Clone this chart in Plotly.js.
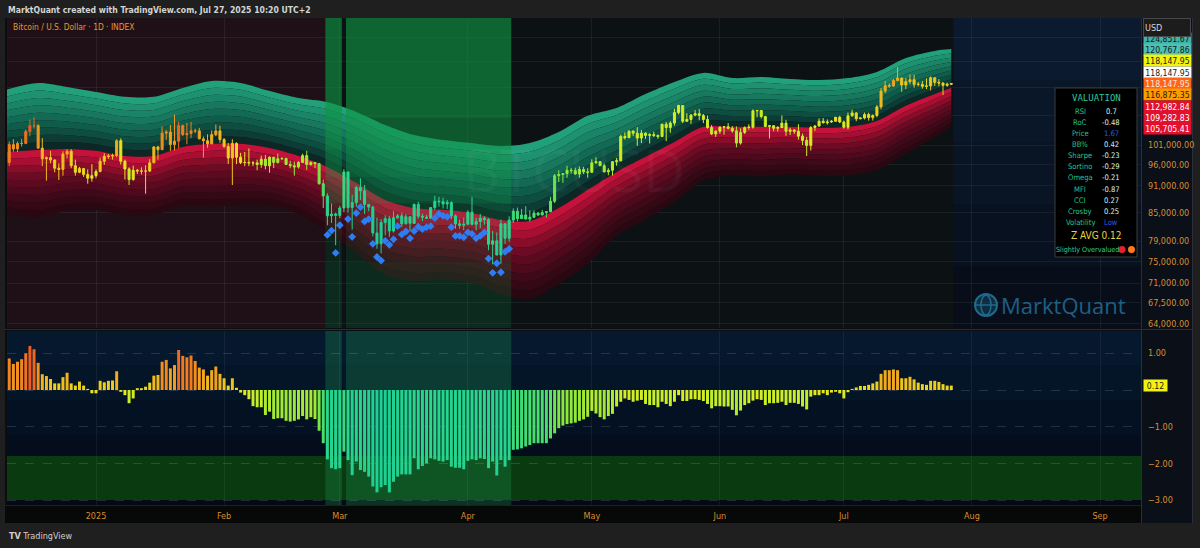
<!DOCTYPE html>
<html>
<head>
<meta charset="utf-8">
<script src="https://cdn.plot.ly/plotly-3.0.1.min.js"></script>
<style>
html,body{margin:0;padding:0;background:#1f1f1f;overflow:hidden;}
#chart{width:1200px;height:548px;}
</style>
</head>
<body>
<div id="chart"></div>
<script>
// ================= DATA (prices in thousands of USD) =================
const startDate = '2024-12-11';
const opens = [
96.6,101.1,100.0,101.4,101.4,104.5,106.1,106.1,100.2,97.5,97.8,97.2,95.2,94.9,98.7,99.4,95.8,94.2,95.1,93.7,92.8,
93.4,94.4,96.9,98.1,98.2,98.3,102.1,96.9,95.0,92.5,94.7,94.5,94.5,94.5,96.5,100.5,99.8,104.1,104.4,101.1,102.0,106.1,103.7,104.0,104.7,104.7,102.6,102.1,101.3,103.7,104.7,
102.4,100.6,97.7,101.4,97.9,96.6,96.6,96.5,96.5,96.1,97.4,95.8,97.9,96.6,97.5,97.6,96.1,95.8,95.5,96.6,98.3,96.1,96.6,96.3,91.5,88.7,84.3,84.7,
84.4,86.0,94.3,86.1,87.2,90.6,89.9,86.8,86.2,80.7,78.5,82.9,83.7,81.1,83.9,84.3,82.6,84.1,82.7,86.8,84.2,84.0,83.8,86.1,87.5,87.4,86.9,87.2,84.3,82.6,82.3,
82.5,85.1,82.5,83.1,83.8,83.5,78.4,79.1,76.3,82.6,79.6,83.4,85.3,83.7,84.5,83.6,84.0,84.9,84.5,85.0,85.2,87.5,93.4,93.7,93.9,94.7,94.6,93.8,94.9,94.3,
94.2,96.5,96.8,95.8,94.3,94.7,96.8,97.0,103.2,102.9,104.6,104.1,102.8,104.1,103.5,103.7,103.5,103.2,106.5,105.6,106.8,109.7,111.7,107.3,107.8,109.0,109.4,108.9,107.8,105.6,103.9,
104.6,105.7,105.8,105.4,104.7,101.5,104.3,105.6,105.7,110.2,110.3,108.6,105.9,106.1,105.4,105.6,106.8,104.6,104.9,104.6,103.3,102.2,100.9,105.6,106.0,107.3,106.9,107.1,107.3,108.4,
107.1,105.7,108.8,109.6,108.0,108.2,109.2,108.3,108.9,111.3,115.9,117.5,117.4,119.1,119.8,117.7,118.7,119.3,117.9,117.9,117.3,117.4,119.9,118.5,118.3,117.6,117.9];
const highs = [
101.9,102.5,101.9,102.6,105.1,107.8,108.4,106.5,102.8,98.1,99.5,97.4,96.4,99.4,99.9,99.9,97.3,95.5,95.2,94.9,96.2,
94.9,97.8,98.9,98.7,98.8,102.5,102.7,97.3,95.4,95.8,95.0,95.4,95.9,97.4,100.7,100.8,105.9,104.9,106.3,109.1,107.2,106.4,106.9,107.1,105.3,105.5,103.2,103.8,104.8,106.4,106.1,
102.8,101.5,102.5,101.7,99.0,99.2,100.1,96.9,97.3,98.3,98.5,98.1,98.0,98.8,97.9,97.7,97.0,96.8,96.9,98.8,99.5,96.9,96.7,96.5,92.5,89.3,87.0,85.0,
86.5,95.0,94.4,88.9,91.0,92.8,91.2,86.8,86.5,83.9,83.6,84.4,84.3,85.3,84.7,85.0,84.7,84.1,87.0,87.4,84.8,84.5,86.1,88.7,88.5,88.3,87.8,87.5,84.6,83.5,83.9,
85.5,88.5,83.9,84.7,84.2,83.8,81.1,80.8,83.5,82.7,84.2,85.9,86.1,85.8,86.4,85.5,85.5,85.1,85.6,85.3,88.5,93.8,94.7,94.0,95.8,95.3,95.3,95.6,95.5,95.2,
97.4,97.9,96.9,96.3,95.2,96.9,97.7,103.7,104.3,104.9,104.9,105.7,104.9,104.3,104.1,104.5,103.7,106.6,107.1,107.3,110.8,111.9,111.8,109.5,109.3,110.4,110.7,109.3,108.9,106.3,104.9,
105.9,105.9,106.8,106.0,105.9,105.4,105.9,106.5,110.6,110.4,110.4,108.8,106.2,106.2,106.0,108.9,107.7,105.5,105.2,106.5,104.0,103.1,106.0,106.3,108.1,108.2,107.8,107.6,108.5,108.8,
107.5,109.7,110.5,109.8,108.4,109.7,109.7,109.2,111.9,116.8,118.9,118.2,119.5,123.2,119.9,119.8,120.9,120.8,118.6,118.9,119.7,120.3,120.1,119.5,118.5,118.4,118.3];
const lows = [
95.7,99.3,99.2,100.6,101.2,103.3,105.3,100.0,95.7,92.2,96.4,94.2,92.4,93.4,97.6,95.2,93.4,94.0,93.1,91.5,92.0,
92.8,94.2,96.0,97.5,97.3,97.9,96.1,92.5,91.2,92.2,93.8,93.7,89.2,94.3,96.5,97.3,99.8,102.3,99.5,99.6,100.1,103.3,101.2,102.8,104.1,102.5,97.8,100.3,101.3,103.3,101.6,
100.3,96.2,91.2,96.2,96.2,95.7,95.7,95.7,94.7,95.3,94.9,94.1,95.2,96.3,97.2,96.1,95.2,93.4,95.1,96.5,94.8,95.8,95.2,91.3,86.0,82.3,82.8,78.2,
83.8,85.1,85.0,81.4,86.3,87.8,84.7,85.3,80.0,77.5,76.6,80.2,79.9,80.8,83.7,82.0,82.5,81.1,82.7,83.7,83.2,83.7,83.8,85.6,86.3,85.9,85.8,83.6,81.6,81.6,81.3,
82.4,82.3,81.2,81.7,82.4,77.2,74.5,76.2,74.6,78.5,78.9,82.8,83.1,83.7,83.6,83.1,83.9,84.3,84.4,83.9,85.1,87.1,91.9,91.7,92.9,93.9,93.6,92.9,93.8,92.9,
94.1,96.3,95.8,94.2,93.5,93.4,95.8,96.9,102.4,102.8,103.3,100.8,101.5,102.6,101.4,103.1,102.6,103.1,102.0,104.2,106.1,109.2,106.8,107.1,106.6,108.7,107.6,106.8,105.3,103.6,103.1,
103.9,103.7,105.1,104.2,100.4,101.1,103.9,105.0,105.3,108.4,108.1,105.7,102.7,104.6,104.5,105.5,103.4,103.6,103.9,102.4,101.0,98.2,99.6,104.7,105.9,106.7,106.4,106.9,107.2,106.8,
105.3,105.1,108.6,107.3,107.8,107.8,107.5,107.5,108.4,110.6,115.3,116.9,117.2,118.9,115.7,116.5,117.9,116.9,117.3,116.6,116.5,116.1,117.4,117.3,114.7,117.2,117.8];
const closes = [
101.1,100.0,101.4,101.4,104.5,106.1,106.1,100.2,97.5,97.8,97.2,95.2,94.9,98.7,99.4,95.8,94.2,95.1,93.7,92.8,93.4,
94.4,96.9,98.1,98.2,98.3,102.1,96.9,95.0,92.5,94.7,94.5,94.5,94.5,96.5,100.5,99.8,104.1,104.4,101.1,102.0,106.1,103.7,104.0,104.7,104.7,102.6,102.1,101.3,103.7,104.7,102.4,
100.6,97.7,101.4,97.9,96.6,96.6,96.5,96.5,96.1,97.4,95.8,97.9,96.6,97.5,97.6,96.1,95.8,95.5,96.6,98.3,96.1,96.6,96.3,91.5,88.7,84.3,84.7,84.4,
86.0,94.3,86.1,87.2,90.6,89.9,86.8,86.2,80.7,78.5,82.9,83.7,81.1,83.9,84.3,82.6,84.1,82.7,86.8,84.2,84.0,83.8,86.1,87.5,87.4,86.9,87.2,84.3,82.6,82.3,82.5,
85.1,82.5,83.1,83.8,83.5,78.4,79.1,76.3,82.6,79.6,83.4,85.3,83.7,84.5,83.6,84.0,84.9,84.5,85.0,85.2,87.5,93.4,93.7,93.9,94.7,94.6,93.8,94.9,94.3,94.2,
96.5,96.8,95.8,94.3,94.7,96.8,97.0,103.2,102.9,104.6,104.1,102.8,104.1,103.5,103.7,103.5,103.2,106.5,105.6,106.8,109.7,111.7,107.3,107.8,109.0,109.4,108.9,107.8,105.6,103.9,104.6,
105.7,105.8,105.4,104.7,101.5,104.3,105.6,105.7,110.2,110.3,108.6,105.9,106.1,105.4,105.6,106.8,104.6,104.9,104.6,103.3,102.2,100.9,105.6,106.0,107.3,106.9,107.1,107.3,108.4,107.1,
105.7,108.8,109.6,108.0,108.2,109.2,108.3,108.9,111.3,115.9,117.5,117.4,119.1,119.8,117.7,118.7,119.3,117.9,117.9,117.3,117.4,119.9,118.5,118.3,117.6,117.9,118.148];

// valuation Z-score histogram (one per day, same dates as candles)
const zScores = [
0.86,0.71,0.77,0.84,1.0,1.2,1.11,0.74,0.43,0.38,0.30,0.18,0.18,0.35,0.47,0.18,0.12,0.23,0.12,0.03,
-0.09,-0.09,0.25,0.21,0.25,0.26,0.51,-0.05,-0.14,-0.36,-0.23,0.05,0.05,0.09,0.2,0.39,0.41,0.77,0.82,0.59,
0.68,1.09,0.93,0.89,0.94,0.79,0.61,0.56,0.39,0.54,0.64,0.44,0.32,0.12,0.32,0.06,-0.07,-0.14,-0.25,-0.44,
-0.47,-0.47,-0.68,-0.59,-0.79,-0.77,-0.77,-0.84,-0.86,-0.84,-0.8,-0.71,-0.8,-0.74,-0.79,-1.11,-1.45,-1.89,
-2.13,-2.16,-2.13,-1.68,-1.91,-2.32,-1.95,-2.18,-2.23,-2.36,-2.63,-2.79,-2.65,-2.59,-2.79,-2.5,-2.36,-2.30,-2.30,-2.30,
-1.86,-2.16,-2.07,-2.0,-1.86,-1.89,-1.93,-1.95,-1.91,-2.09,-2.12,-2.12,-2.16,-1.93,-1.89,-1.91,-1.86,-1.88,-2.13,-1.95,
-2.33,-1.91,-2.09,-1.91,-1.63,-1.62,-1.59,-1.54,-1.5,-1.45,-1.45,-1.45,-1.45,-1.32,-1.18,-1.04,-0.97,-0.93,-0.91,-0.89,
-0.84,-0.80,-0.73,-0.57,-0.64,-0.74,-0.80,-0.71,-0.65,-0.45,-0.32,-0.23,-0.27,-0.32,-0.29,-0.27,-0.38,
-0.41,-0.41,-0.47,-0.32,-0.38,-0.44,-0.32,-0.14,-0.30,-0.30,-0.25,-0.25,-0.27,-0.30,-0.38,-0.50,-0.44,-0.44,-0.45,-0.45,
-0.54,-0.69,-0.56,-0.41,-0.36,-0.29,-0.25,-0.27,-0.41,-0.36,-0.36,-0.35,-0.32,-0.41,-0.35,-0.35,-0.38,-0.45,-0.53,-0.18,
-0.14,-0.14,-0.09,-0.14,-0.07,-0.05,-0.09,-0.23,-0.06,0.03,0.07,0.11,0.11,0.14,0.18,0.23,0.44,0.54,0.54,0.56,
0.54,0.32,0.32,0.36,0.29,0.20,0.16,0.14,0.25,0.25,0.22,0.16,0.12,0.12];

// valuation bands: centre line and outermost upper line (thousands)
const bandDates = ['2024-12-10','2024-12-18','2024-12-25','2025-01-01','2025-01-08','2025-01-15','2025-01-22','2025-01-29',
'2025-02-05','2025-02-12','2025-02-19','2025-02-26','2025-03-05','2025-03-12','2025-03-19','2025-03-26','2025-04-02','2025-04-09',
'2025-04-16','2025-04-23','2025-04-30','2025-05-07','2025-05-14','2025-05-21','2025-05-28','2025-06-04','2025-06-11','2025-06-18',
'2025-06-25','2025-07-02','2025-07-09','2025-07-16','2025-07-23','2025-07-27'];
const bandMid = [99.2,99.7,100.0,99.5,98.2,98.2,100.5,101.3,101.3,100.2,98.2,95.5,91.7,87.8,86.0,85.6,84.9,83.4,
83.2,86.0,90.1,94.3,98.0,101.8,105.8,105.8,105.8,105.8,105.5,105.8,107.4,111.6,115.0,116.875];
const bandTop = [116.2,118.3,117.1,115.6,114.2,114.2,116.8,118.9,118.3,115.9,113.9,112.7,109.9,106.3,103.6,102.3,101.5,100.7,
101.5,104.4,108.8,111.0,115.0,118.6,121.4,119.8,120.1,119.5,119.2,119.8,121.7,126.1,128.4,129.0];

// blue signal diamonds (thousands), daily from signalStart, null = none
const signalStart = '2025-02-26';
const signalVals = [80.3,81.2,76.7,82.3,null,83.6,79.9,84.9,86.2,83.1,83.6,78.5,75.9,75.2,79.1,78.3,79.4,82.1,80.4,81.0,
79.6,81.1,82.0,81.5,81.9,82.1,83.8,84.7,84.3,84.1,81.9,80.1,80.1,79.8,80.8,80.5,79.6,80.1,80.8,75.6,72.9,74.7,73.0,76.9,77.5];

const monthTicks = ['2025-01-01','2025-02-01','2025-03-01','2025-04-01','2025-05-01','2025-06-01','2025-07-01','2025-08-01','2025-09-01'];
const monthLabels = ['2025','Feb','Mar','Apr','May','Jun','Jul','Aug','Sep'];
const priceTicks = [64000,67500,71000,75000,79000,85000,91000,96000,101000,109000,117000,125000,133000];
const priceTickText = ['64,000.00','67,500.00','71,000.00','75,000.00','79,000.00','85,000.00','91,000.00','96,000.00','101,000.00','','','',''];
const zTicks = [1,0,-1,-2,-3];
const zTickText = ['1.00','','\u22121.00','\u22122.00','\u22123.00'];
const priceLabels = ['124,851.67','120,767.86','118,147.95','118,147.95','118,147.95','116,875.35','112,982.84','109,282.83','105,705.41'];
const zLastLabel = '0.12';
const valNames = ['RSI','RoC','Price','BB%','Sharpe','Sortino','Omega','MFI','CCI','Crosby','Volatility'];
const valValues = ['0.7','-0.48','1.67','0.42','-0.23','-0.29','-0.21','-0.87','0.27','0.25','Low'];
const zAvgText = 'Z AVG 0.12';
const verdictText = 'Slightly Overvalued';

// ================= HELPERS / STYLE =================
const K = 1000;
const PL = 7, PR = 1141, PT = 18, PB = 505;
const fx = p => (p - PL) / (PR - PL);
const fy = p => (PB - p) / (PB - PT);
const UP_LO = fy(328), LO_HI = fy(331);
const xRange = ['2024-12-10 11:00', '2025-09-10 22:00'];
const NARROW = "'Liberation Sans Narrow','Arial Narrow','DejaVu Sans Condensed',sans-serif";
const AXCOL = '#d98e2f';
const HL_T = -1.75;

function dayStr(base, i) {
  const d = new Date(base + 'T00:00:00Z');
  d.setUTCDate(d.getUTCDate() + i);
  return d.toISOString().slice(0, 10);
}
const dates = closes.map((_, i) => dayStr(startDate, i));

const zStops = [[-2.6,[30,208,148]],[-1.9,[40,214,140]],[-1.45,[72,224,108]],[-1.1,[120,230,72]],[-0.8,[160,234,52]],
  [-0.4,[200,240,40]],[-0.1,[230,232,32]],[0.2,[236,210,30]],[0.45,[240,180,30]],[0.8,[242,140,30]],[1.2,[238,92,30]]];
function zColor(z) {
  if (z <= zStops[0][0]) return 'rgb(' + zStops[0][1].join(',') + ')';
  for (let i = 1; i < zStops.length; i++) {
    if (z <= zStops[i][0]) {
      const a = zStops[i-1], b = zStops[i];
      const t = (z - a[0]) / (b[0] - a[0]);
      return 'rgb(' + a[1].map((c, k) => Math.round(c + (b[1][k] - c) * t)).join(',') + ')';
    }
  }
  return 'rgb(' + zStops[zStops.length-1][1].join(',') + ')';
}

const traces = [];

// ---- bands (gradient layers between centre and outer lines) ----
const bandFr = [1, 8/9, 7/9, 6/9, 5/9, 4/9, 3/9, 2/9, 1/9, 0, -1/9, -2/9, -3/9, -4/9, -5/9, -6/9, -7/9, -8/9, -1];
const bandCols = ['rgb(34,160,122)','rgb(30,146,112)','rgb(26,132,102)','rgb(23,120,94)','rgb(19,106,84)','rgb(16,92,75)',
  'rgb(14,78,65)','rgb(12,60,53)','rgb(11,40,38)',
  'rgb(196,18,58)','rgb(166,15,49)','rgb(136,13,41)','rgb(108,11,35)','rgb(92,10,31)','rgb(78,10,28)',
  'rgb(62,9,24)','rgb(52,9,21)','rgb(42,8,18)'];
bandFr.forEach((f, j) => {
  const y = bandMid.map((m, i) => m * K * Math.pow(bandTop[i] / m, f));
  const tr = {type:'scatter', mode:'lines', x:bandDates, y:y, xaxis:'x', yaxis:'y',
    line:{width:0, shape:'spline', smoothing:0.9}, hoverinfo:'skip', showlegend:false};
  if (j > 0) { tr.fill = 'tonexty'; tr.fillcolor = bandCols[j-1]; }
  traces.push(tr);
});

// ---- undervalued highlight runs ----
const hlRuns = [];
let rs = -1;
zScores.forEach((z, i) => {
  if (z < HL_T) { if (rs < 0) rs = i; }
  else if (rs >= 0) { hlRuns.push([rs, i - 1]); rs = -1; }
});
if (rs >= 0) hlRuns.push([rs, zScores.length - 1]);
const runX = hlRuns.map(r => [dayStr(startDate, r[0] - 1) + ' 12:00', dayStr(startDate, r[1]) + ' 12:00']);

const hlStrips = [[108000,400000,0.64],[100000,108000,0.55],[93000,100000,0.44],[87000,93000,0.32],[82000,87000,0.17],[75000,82000,0.15],[30000,75000,0.2]];
hlStrips.forEach(s => {
  const xs = [], ys = [];
  runX.forEach(r => { xs.push(r[0], r[0], r[1], r[1], r[0], null); ys.push(s[0], s[1], s[1], s[0], s[0], null); });
  traces.push({type:'scatter', mode:'lines', x:xs, y:ys, xaxis:'x', yaxis:'y', fill:'toself',
    fillcolor:'rgba(16,148,68,' + s[2] + ')', line:{width:0}, hoverinfo:'skip', showlegend:false});
});

// ---- candles coloured by z-score ----
const buckets = {};
dates.forEach((d, i) => { const k = Math.round(zScores[i] * 10); (buckets[k] = buckets[k] || []).push(i); });
Object.keys(buckets).forEach(k => {
  const idx = buckets[k];
  const col = zColor(k / 10);
  traces.push({type:'candlestick', xaxis:'x', yaxis:'y3',
    x: idx.map(i => dates[i]), open: idx.map(i => opens[i] * K), high: idx.map(i => highs[i] * K),
    low: idx.map(i => lows[i] * K), close: idx.map(i => closes[i] * K),
    increasing:{line:{color:col, width:1}, fillcolor:col}, decreasing:{line:{color:col, width:1}, fillcolor:col},
    whiskerwidth:0, hoverinfo:'skip', showlegend:false});
});

// ---- signal diamonds ----
const sx = [], sy = [];
signalVals.forEach((v, i) => { if (v !== null) { sx.push(dayStr(signalStart, i)); sy.push(v * K); } });
traces.push({type:'scatter', mode:'markers', x:sx, y:sy, xaxis:'x', yaxis:'y3',
  marker:{symbol:'diamond', size:6, color:'#2f7df4'}, hoverinfo:'skip', showlegend:false});

// ---- histogram ----
traces.push({type:'bar', x:dates, y:zScores, xaxis:'x2', yaxis:'y2',
  marker:{color: zScores.map(zColor), line:{width:0}}, width: 0.72 * 86400000, hoverinfo:'skip', showlegend:false});

// ================= SHAPES =================
const shapes = [];
const rectP = (x0, x1, y0, y1, fill, layer) => ({type:'rect', xref:'paper', yref:'paper', x0:fx(x0), x1:fx(x1), y0:fy(y1), y1:fy(y0), fillcolor:fill, line:{width:0}, layer:layer || 'below'});
shapes.push(rectP(5, 1193, 18, 523, '#0a0d12'));
shapes.push(rectP(PL, PR, 18, 328, '#0c1114'));
shapes.push({type:'rect', xref:'x', yref:'paper', x0:xRange[0], x1:runX.length ? runX[0][0] : xRange[0], y0:UP_LO, y1:1,
  fillcolor:'rgba(100,14,36,0.22)', line:{width:0}, layer:'below'});
const navyTop = ['#0b1a2e','#0a1729','#091424','#08111f','#070e1a'];
const lastEdge = dates[dates.length - 1] + ' 12:00';
navyTop.forEach((c, i) => {
  const h = (328 - 18) / navyTop.length;
  shapes.push({type:'rect', xref:'x', yref:'paper', x0:lastEdge, x1:xRange[1], y0:fy(18 + h * (i + 1)), y1:fy(18 + h * i),
    fillcolor:c, line:{width:0}, layer:'below'});
});
const navyLow = ['#06182d','#051528','#041122','#030d1b','#030a15'];
navyLow.forEach((c, i) => {
  const h = (505 - 331) / navyLow.length;
  shapes.push(rectP(PL, PR, 331 + h * i, 331 + h * (i + 1), c));
});
shapes.push({type:'rect', xref:'paper', yref:'y2', x0:0, x1:1, y0:-3.0, y1:-1.8, fillcolor:'#0a3a10', line:{width:0}, layer:'below'});
runX.forEach(r => shapes.push({type:'rect', xref:'x2', yref:'paper', x0:r[0], x1:r[1], y0:0, y1:LO_HI,
  fillcolor:'rgba(28,150,80,0.30)', line:{width:0}, layer:'below'}));
shapes.push(rectP(PR, 1193, 18, 523, '#0b0f18'));
shapes.push(rectP(5, PR, 505, 523, '#070808'));
const lineP = (x0, y0, x1, y1, c) => ({type:'line', xref:'paper', yref:'paper', x0:fx(x0), y0:fy(y0), x1:fx(x1), y1:fy(y1), line:{color:c, width:1}, layer:'below'});
shapes.push(lineP(5, 329.5, 1193, 329.5, '#2a2e39'));
shapes.push(lineP(PR + 0.5, 18, PR + 0.5, 523, '#2a2e39'));
shapes.push(lineP(5, 505.5, PR, 505.5, '#1c1f26'));
shapes.push(lineP(1192.5, 18, 1192.5, 523, '#2a2e39'));
// valuation table box
shapes.push(rectP(1055, 1137, 88, 257, '#000000', 'above'));
shapes[shapes.length - 1].line = {color:'#3c3c3c', width:1};
// verdict dots
const dot = (cx, cy, r, c) => ({type:'circle', xref:'paper', yref:'paper', x0:fx(cx - r), x1:fx(cx + r), y0:fy(cy + r), y1:fy(cy - r), fillcolor:c, line:{width:0}, layer:'above'});
shapes.push(dot(1122, 249.5, 3.5, '#e5202e'));
shapes.push(dot(1131.5, 249.5, 3.5, '#ff7a1e'));
// logo globe
shapes.push({type:'circle', xref:'paper', yref:'paper', x0:fx(975), x1:fx(997), y0:fy(316), y1:fy(294), fillcolor:'rgba(30,100,135,0.35)', line:{color:'#1f6a8e', width:2}, layer:'above'});
shapes.push({type:'circle', xref:'paper', yref:'paper', x0:fx(981), x1:fx(991), y0:fy(315), y1:fy(295), fillcolor:'rgba(0,0,0,0)', line:{color:'#1f6a8e', width:1.5}, layer:'above'});
shapes.push({type:'line', xref:'paper', yref:'paper', x0:fx(976), x1:fx(996), y0:fy(305), y1:fy(305), line:{color:'#1f6a8e', width:1.5}, layer:'above'});

// ================= ANNOTATIONS =================
const ann = [];
const txt = (x, y, text, o) => Object.assign({xref:'paper', yref:'paper', x:fx(x), y:fy(y), text:text, showarrow:false,
  xanchor:'left', yanchor:'middle', font:{family:NARROW, size:9, color:'#d0d0d0'}}, o || {});
ann.push(txt(6, 9.5, 'MarktQuant created with TradingView.com, Jul 27, 2025 10:20 UTC+2', {font:{family:NARROW, size:8.6, color:'#d4d4d4', weight:600}}));
ann.push(txt(11, 27, 'Bitcoin / U.S. Dollar \u00b7 1D \u00b7 INDEX', {font:{family:NARROW, size:8.4, color:'#e8962c'}}));
ann.push(txt(7, 536, '<b>TV</b> TradingView', {font:{family:NARROW, size:9, color:'#cfcfcf'}}));
ann.push(txt(574, 170, 'BTCUSD', {xanchor:'center', font:{family:'Open Sans, sans-serif', size:58, color:'rgba(255,255,255,0.035)'}}));
ann.push(txt(999, 305, 'MarktQuant', {font:{family:'Open Sans, sans-serif', size:22, color:'#1f5f82'}}));

const plStyle = [['#3fb3a8','#0d1a1a'],['#4fc0b6','#102020'],['#f2f20c','#1a1a1a'],['#ffffff','#1a1a1a'],['#ff6519','#fbe7da'],
  ['#ff9a00','#1a1a1a'],['#e1102c','#ffffff'],['#e1102c','#ffffff'],['#e1102c','#ffffff']];
const plY = [38.5, 49.5, 60.8, 72.1, 83.4, 94.7, 106, 117.3, 128.6];
priceLabels.forEach((t, i) => {
  ann.push(txt(1143, plY[i], t, {xanchor:'left', bgcolor:plStyle[i][0], width:46, height:10, borderpad:0.5, align:'center',
    font:{family:NARROW, size:8.6, color:plStyle[i][1]}}));
});
ann.push(txt(1143, 28, 'USD', {bgcolor:'#1c1c1c', bordercolor:'#474747', borderwidth:1, width:44, height:15, align:'left',
  font:{family:NARROW, size:9, color:'#d8d8d8'}}));
ann.push({xref:'paper', yref:'y2', x:fx(1143), y:zScores[zScores.length - 1], text:zLastLabel, showarrow:false, xanchor:'left', yanchor:'middle',
  bgcolor:'#f2f20c', width:22, height:10, borderpad:0.5, font:{family:NARROW, size:8.6, color:'#1a1a1a'}});

// valuation table text
ann.push(txt(1096, 98.5, 'VALUATION', {xanchor:'center', font:{family:"'DejaVu Sans Mono',monospace", size:9, color:'#2cc3a0'}}));
valNames.forEach((n, i) => {
  const y = 111 + i * 11.15;
  ann.push(txt(1080, y, n, {xanchor:'center', font:{family:NARROW, size:7.6, color:'#27c48e'}}));
  const v = valValues[i];
  const vc = (n === 'Price' || n === 'Volatility') ? '#2e5ae0' : '#d6f5e2';
  ann.push(txt(1111, y, v, {xanchor:'center', font:{family:NARROW, size:7.6, color:vc}}));
});
ann.push(txt(1096, 235.7, zAvgText, {xanchor:'center', font:{family:NARROW, size:10, color:'#e6d443'}}));
ann.push(txt(1087, 249.5, verdictText, {xanchor:'center', font:{family:NARROW, size:7.2, color:'#2fd38a'}}));

// ================= LAYOUT =================
const GRID = 'rgba(255,255,255,0.06)';
const tickFont = {family:NARROW, size:9, color:AXCOL};
const layout = {
  width:1200, height:548, margin:{l:PL, r:1200 - PR, t:PT, b:548 - PB},
  paper_bgcolor:'#1f1f1f', plot_bgcolor:'rgba(0,0,0,0)', showlegend:false, dragmode:false,
  xaxis:{type:'date', range:xRange, domain:[0,1], anchor:'y', tickvals:monthTicks, showticklabels:false, ticks:'',
    showgrid:true, gridcolor:GRID, zeroline:false, showline:false, rangeslider:{visible:false}, fixedrange:true},
  xaxis2:{type:'date', range:xRange, domain:[0,1], anchor:'y2', tickvals:monthTicks, ticktext:monthLabels, ticks:'',
    tickfont:{family:NARROW, size:9, color:AXCOL}, ticklabelstandoff:4,
    showgrid:true, gridcolor:GRID, zeroline:false, showline:false, rangeslider:{visible:false}, fixedrange:true},
  yaxis:{type:'log', domain:[UP_LO,1], range:[4.80157, 5.14502], autorange:false, anchor:'x', side:'right',
    tickvals:priceTicks, ticktext:priceTickText, tickfont:tickFont, ticks:'', ticklabelstandoff:6,
    showgrid:true, gridcolor:GRID, zeroline:false, showline:false, fixedrange:true},
  yaxis3:{type:'log', overlaying:'y', range:[4.80157, 5.14502], autorange:false, anchor:'x', side:'right', visible:false, fixedrange:true},
  yaxis2:{domain:[0,LO_HI], range:[-3.1335, 1.6076], autorange:false, anchor:'x2', side:'right',
    tickvals:zTicks, ticktext:zTickText, tickfont:tickFont, ticks:'', ticklabelstandoff:6,
    showgrid:true, gridcolor:'rgba(255,255,255,0.13)', griddash:'dash', zeroline:false, showline:false, fixedrange:true},
  bargap:0.2, shapes:shapes, annotations:ann
};

Plotly.newPlot('chart', traces, layout, {staticPlot:true, displayModeBar:false});
</script>
</body>
</html>
